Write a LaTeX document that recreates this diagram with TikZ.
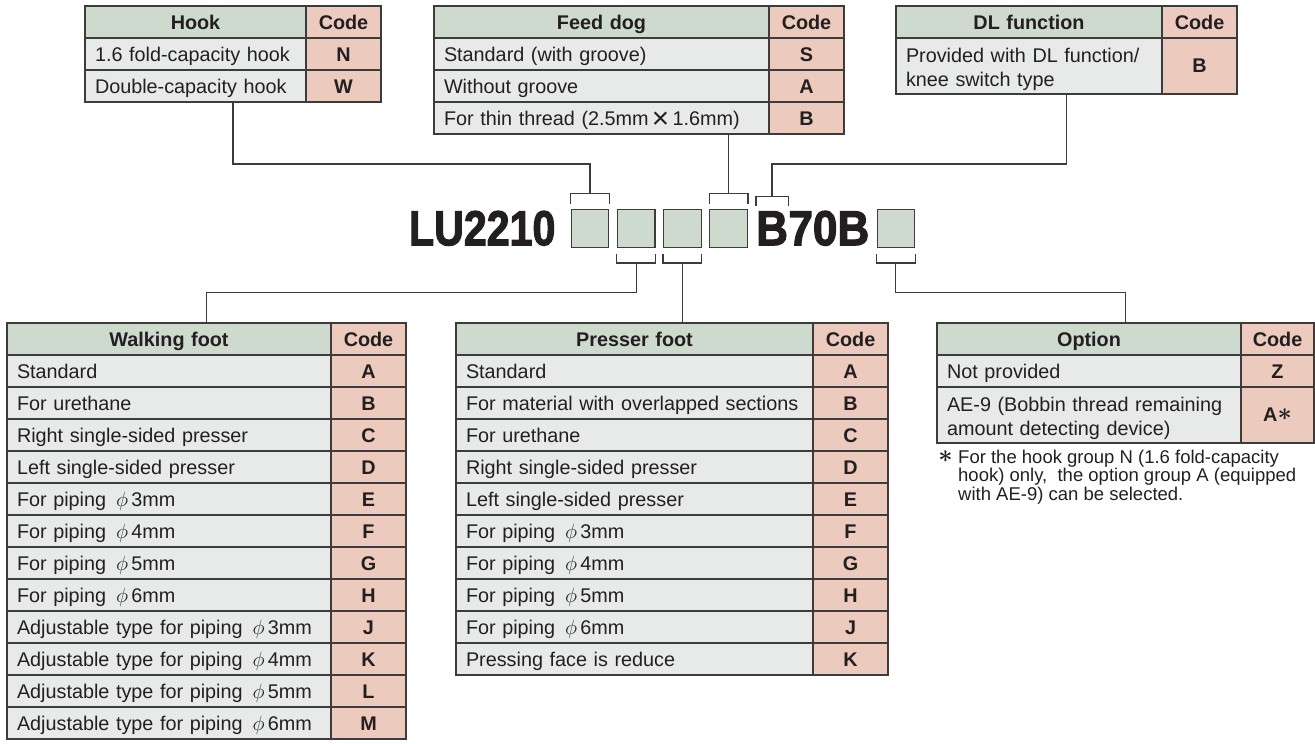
\documentclass[tikz,border=0pt]{standalone}
\usepackage{fontspec}
\setmainfont{Liberation Sans}
\newfontfamily\modelfont{Liberation Sans Bold}[FakeBold=2.5]
\usepackage{graphicx}
\usepackage{tikz}
\usetikzlibrary{positioning,fit}

\definecolor{headgreen}{HTML}{CDDACD}
\definecolor{codepink}{HTML}{ECCBBE}
\definecolor{rowgray}{HTML}{E8EAE9}
\definecolor{linegray}{HTML}{3C3C3C}
\definecolor{ink}{HTML}{231F20}
\newcommand{\tabfont}{\fontsize{19.8}{24}\selectfont}
\newcommand{\notefont}{\fontsize{18.5}{18.5}\selectfont}
\newcommand{\dia}[1]{~\,$\phi$\,#1mm}
\newcommand{\bigast}{{\fontsize{26}{26}\selectfont\boldmath$\ast$}}

\begin{document}
\begin{tikzpicture}[x=1pt, y=-1pt,
    cell/.style={rectangle, draw=linegray, line width=1.2pt, fill=rowgray,
                 inner xsep=10pt, inner ysep=0pt, outer sep=0pt,
                 minimum height=32pt, text height=15pt, text depth=0pt,
                 font=\tabfont, text=ink},
    rowcell/.style={cell, anchor=north west, text width=#1, align=left},
    headcell/.style={cell, anchor=north west, fill=headgreen,
                 font=\tabfont\bfseries, text width=#1, align=center},
    codecell/.style={cell, fill=codepink, font=\tabfont\bfseries,
                 minimum width=75pt, inner xsep=0pt},
    twoline/.style={minimum height=56pt, text height={}, text depth={}},
    tabfit/.style={fit=#1, inner sep=0pt},
    slot/.style={rectangle, draw=linegray, line width=1.2pt, fill=headgreen,
                 minimum width=37.5pt, minimum height=38pt},
    model/.style={inner sep=0pt, font=\fontsize{49}{49}\modelfont, text=ink},
    note/.style={inner sep=0pt, font=\notefont, text=ink, align=left},
    link/.style={draw=linegray, line width=1.2pt}
]
\useasboundingbox (0,0) rectangle (1315,744);

% Hook
\node[headcell=201pt] (hook) at (85,6) {Hook};
\node[codecell, right=0pt of hook] (hook-c) {Code};
\foreach \txt/\cd [count=\i] in {1.6 fold-capacity hook/N, Double-capacity hook/W}{
  \node[rowcell=201pt] (hook-\i) at (85,6+32*\i) {\txt};
  \node[codecell, right=0pt of hook-\i] (hook-c\i) {\cd};
}
\node[tabfit={(hook)(hook-c2)}] (hooktab) {};

% Feed dog
\node[headcell=315pt] (feed) at (434,6) {Feed dog};
\node[codecell, right=0pt of feed] (feed-c) {Code};
\foreach \txt/\cd [count=\i] in {Standard (with groove)/S, Without groove/A,
    For thin thread (2.5mm\,\raisebox{-2.5pt}{\scalebox{1.5}{×}}\,1.6mm)/B}{
  \node[rowcell=315pt] (feed-\i) at (434,6+32*\i) {\txt};
  \node[codecell, right=0pt of feed-\i] (feed-c\i) {\cd};
}
\node[tabfit={(feed)(feed-c3)}] (feedtab) {};

% DL function
\node[headcell=246pt] (dl) at (896,6) {DL function};
\node[codecell, right=0pt of dl] (dl-c) {Code};
\node[rowcell=246pt, twoline] (dl-1) at (896,38)
    {\rule{0pt}{22pt}Provided with DL function/\\knee switch type};
\node[codecell, twoline, right=0pt of dl-1] (dl-c1) {B};
\node[tabfit={(dl)(dl-c1)}] (dltab) {};

% Walking foot
\node[headcell=304pt] (walk) at (7,323) {Walking foot};
\node[codecell, right=0pt of walk] (walk-c) {Code};
\foreach \txt/\cd [count=\i] in {Standard/A, For urethane/B,
    Right single-sided presser/C, Left single-sided presser/D,
    For piping\dia{3}/E, For piping\dia{4}/F, For piping\dia{5}/G, For piping\dia{6}/H,
    Adjustable type for piping\dia{3}/J, Adjustable type for piping\dia{4}/K,
    Adjustable type for piping\dia{5}/L, Adjustable type for piping\dia{6}/M}{
  \node[rowcell=304pt] (walk-\i) at (7,323+32*\i) {\txt};
  \node[codecell, right=0pt of walk-\i] (walk-c\i) {\cd};
}
\node[tabfit={(walk)(walk-c12)}] (walktab) {};

% Presser foot
\node[headcell=337pt] (press) at (456,323) {Presser foot};
\node[codecell, right=0pt of press] (press-c) {Code};
\foreach \txt/\cd [count=\i] in {Standard/A, For material with overlapped sections/B,
    For urethane/C, Right single-sided presser/D, Left single-sided presser/E,
    For piping\dia{3}/F, For piping\dia{4}/G, For piping\dia{5}/H, For piping\dia{6}/J,
    Pressing face is reduce/K}{
  \node[rowcell=337pt] (press-\i) at (456,323+32*\i) {\txt};
  \node[codecell, right=0pt of press-\i] (press-c\i) {\cd};
}
\node[tabfit={(press)(press-c10)}] (presstab) {};

% Option
\node[headcell=284pt] (opt) at (937,323) {Option};
\node[codecell, minimum width=73pt, right=0pt of opt] (opt-c) {Code};
\node[rowcell=284pt] (opt-1) at (937,355) {Not provided};
\node[codecell, minimum width=73pt, right=0pt of opt-1] (opt-c1) {Z};
\node[rowcell=284pt, twoline] (opt-2) at (937,387)
    {\rule{0pt}{21pt}AE-9 (Bobbin thread remaining\\amount detecting device)};
\node[codecell, minimum width=73pt, twoline, right=0pt of opt-2] (opt-c2)
    {A\raisebox{1pt}{\bigast}};
\node[tabfit={(opt)(opt-c2)}] (opttab) {};

% Note
\node[text=ink, inner sep=0pt] (star) at (945.5,457) {\bigast};
\node[note, anchor=north west] (note) at (958,449.5)
    {For the hook group N (1.6 fold-capacity\\hook) only,\ \ the option group A (equipped\\with AE-9) can be selected.};

% Model code
\node[slot] (b1) at (590,228.3) {};
\node[slot, right=7.5pt of b1] (b2) {};
\node[slot, right=7.5pt of b2] (b3) {};
\node[slot, right=7.5pt of b3] (b4) {};
\node[model, left=15pt of b1] (lu) {\scalebox{0.84}[1]{LU2210}};
\node[model, right=8pt of b4] (dlb) {\scalebox{0.9}[1]{B}};
\node[model, right=0pt of dlb] (rest) {\scalebox{0.9}[1]{70B}};
\node[slot, right=7pt of rest] (b5) {};

% Brackets
\foreach \b in {b1,b4,dlb}
  \draw[link] ([yshift=5pt]\b.north west) |- ([yshift=15pt]\b.north) coordinate (\b-up)
      -| ([yshift=5pt]\b.north east);
\foreach \b in {b2,b3,b5}
  \draw[link] ([yshift=-6pt]\b.south west) |- ([yshift=-15pt]\b.south) coordinate (\b-dn)
      -| ([yshift=-6pt]\b.south east);

% Connectors
\coordinate (toplevel) at (0,164);
\coordinate (botlevel) at (0,292.5);
\draw[link] (hooktab.south) |- (b1-up |- toplevel) -- (b1-up);
\draw[link] (b4-up) -- (b4-up |- feedtab.south);
\draw[link] (dltab.south) |- (dlb-up |- toplevel) -- (dlb-up);
\draw[link] (b2-dn) |- (walktab.north |- botlevel) -- (walktab.north);
\draw[link] (b3-dn) -- (b3-dn |- presstab.north);
\draw[link] (b5-dn) |- (opttab.north |- botlevel) -- (opttab.north);

\end{tikzpicture}
\end{document}
